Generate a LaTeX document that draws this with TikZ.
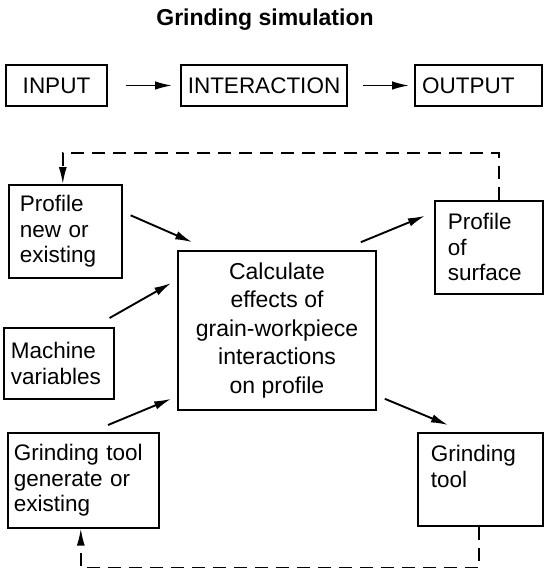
\documentclass[tikz,border=0pt]{standalone}
\usepackage{fontspec}
\setmainfont{Liberation Sans}
\usepackage{tikz}
\usetikzlibrary{arrows.meta}
\usetikzlibrary{positioning,shapes}
\usetikzlibrary{calc}

\begin{document}
\begin{tikzpicture}[x=1pt, y=-1pt,
	box/.style = {draw, rectangle, line width=1.6pt, font=\fontsize{22.5}{25.5}\selectfont},
	side/.style = {box, anchor=north west, align=left, inner ysep=0pt},
	flow/.style = {-{Latex[length=17pt,width=8.5pt]}, line width=1.9pt},
	back/.style = {-{Latex[length=17pt,width=8pt]}, line width=1.6pt, dash pattern=on 13pt off 8pt}]
	\useasboundingbox (0,0) rectangle (544,571);
		\node[font=\bfseries\fontsize{23}{26}\selectfont] (title) at (265, 20) {Grinding simulation};
		% top row
		\node[box, minimum width=101, minimum height=41] (input) at (56.5, 85.5) {INPUT};
		\node[box, minimum width=166, minimum height=41] (inter) at (264, 85.5) {INTERACTION};
		\node[box, minimum width=127, minimum height=41, align=left, text width=113, inner xsep=7] (output) at (478.5, 85.5) {OUTPUT};
		\draw[flow, shorten <=18pt, shorten >=8pt] (input) -- (inter);
		\draw[flow, shorten <=15pt, shorten >=5pt] (inter) -- (output);
		% inputs
		\node[side, minimum width=113, minimum height=93, text width=91, inner xsep=11] (newprof) at (8, 184) {Profile\\new or\\existing};
		\node[side, minimum width=110, minimum height=71, text width=96, inner xsep=7] (machine) at (3, 327) {Machine\\variables};
		\node[side, minimum width=151, minimum height=95, text width=139, inner xsep=6] (gentool) at (7, 432) {Grinding tool\\generate or\\existing};
		% interaction
		\node[box, minimum width=198, minimum height=159, align=center, font=\fontsize{23}{28.5}\selectfont] (calc) at (277, 330.5) {Calculate\\effects of\\grain-workpiece\\interactions\\on profile};
		% outputs
		\node[side, minimum width=108, minimum height=93, text width=82, inner xsep=13] (surf) at (434, 200) {Profile\\of\\surface};
		\node[side, minimum width=125, minimum height=93, text width=99, inner xsep=13] (tool) at (417, 432) {Grinding\\tool\\~};
		\draw[flow] ([shift={(8,-16)}]newprof.east) -- ([shift={(15,-8)}]calc.north west);
		\draw[flow] ([shift={(-5,-9)}]machine.north east) -- ([shift={(-6,-47.5)}]calc.west);
		\draw[flow] ([shift={(101,-7)}]gentool.north west) -- ([shift={(-6,-12)}]calc.south west);
		\draw[flow] ([shift={(-16,-8)}]calc.north east) -- ([shift={(-9,-31.5)}]surf.west);
		\draw[flow] ([shift={(8,-12)}]calc.south east) -- ([shift={(31,-7)}]tool.north west);
		% feedback
		\draw[back] ([xshift=10]surf.north) -- ++(0,-47) -| ([xshift=-2.5]newprof.north);
		\draw[back] ([xshift=-1.5]tool.south) -- ++(0,41) -| ([xshift=-2.5]gentool.south);
	\end{tikzpicture}
\end{document}
